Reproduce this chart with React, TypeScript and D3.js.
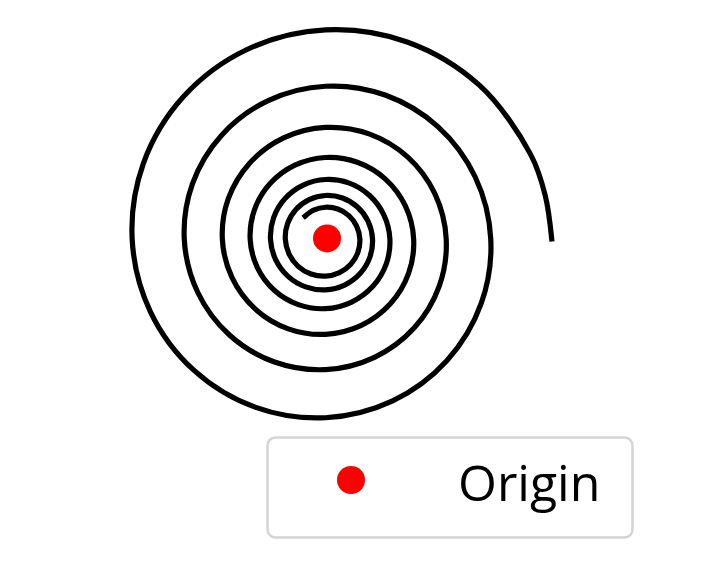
import React from 'react';
import * as d3 from 'd3';

const W = 727;
const H = 567;

// spiral centre in pixels and pixels per data unit
const CX = 325.5;
const CY = 239;
const UNIT = 30.62;

// spiral nodes: angle in degrees (clockwise from 12 o'clock,
// cumulative over the turns) and radius in data units
const SPIRAL_ANGLES = [
  -41.8, -22.5, 0, 22.5, 45, 67.5, 90, 112.5, 135, 157.5, 180, 202.5, 225, 247.5, 270,
  292.5, 315, 337.5, 360, 382.5, 405, 427.5, 450, 472.5, 495, 517.5, 540, 562.5, 585,
  607.5, 630, 652.5, 675, 697.5, 720, 742.5, 765, 787.5, 810, 832.5, 855, 877.5, 900,
  922.5, 945, 967.5, 990, 1012.5, 1035, 1057.5, 1080, 1102.5, 1125, 1147.5, 1170,
  1192.5, 1215, 1237.5, 1260, 1282.5, 1305, 1327.5, 1350, 1372.5, 1395, 1417.5, 1440,
  1462.5, 1485, 1507.5, 1530, 1552.5, 1575, 1597.5, 1620, 1642.5, 1665, 1687.5, 1710,
  1732.5, 1755, 1777.5, 1800, 1822.5, 1845, 1867.5, 1890, 1912.5, 1935, 1957.5, 1980,
  2002.5, 2025, 2047.5, 2070, 2092.5, 2115, 2137.5, 2160, 2182.5, 2205, 2227.5, 2238.75,
  2250,
];
const SPIRAL_RADII = [
  1.0, 1.017, 1.037, 1.058, 1.079, 1.1, 1.122, 1.144, 1.167, 1.19, 1.214, 1.238, 1.262,
  1.287, 1.313, 1.339, 1.365, 1.392, 1.42, 1.448, 1.477, 1.506, 1.536, 1.566, 1.597,
  1.629, 1.661, 1.694, 1.728, 1.762, 1.797, 1.833, 1.869, 1.906, 1.944, 1.983, 2.022,
  2.062, 2.103, 2.145, 2.187, 2.23, 2.275, 2.32, 2.366, 2.413, 2.461, 2.509, 2.559,
  2.61, 2.662, 2.714, 2.768, 2.823, 2.879, 2.936, 2.994, 3.054, 3.114, 3.176, 3.239,
  3.303, 3.369, 3.436, 3.504, 3.573, 3.644, 3.716, 3.79, 3.865, 3.942, 4.02, 4.1,
  4.181, 4.264, 4.348, 4.435, 4.522, 4.612, 4.704, 4.797, 4.892, 4.989, 5.088, 5.189,
  5.292, 5.397, 5.504, 5.613, 5.724, 5.837, 5.953, 6.071, 6.192, 6.314, 6.44, 6.567,
  6.698, 6.83, 6.966, 7.104, 7.245, 7.316, 7.388,
];

const ORIGIN_X = [0.05];
const ORIGIN_Y = [0.02];
const LEGEND_LABELS = ['Origin'];

export default function App() {
  const xScale = d3.scaleLinear().domain([-8, 8]).range([CX - 8 * UNIT, CX + 8 * UNIT]);
  const yScale = d3.scaleLinear().domain([-8, 8]).range([CY + 8 * UNIT, CY - 8 * UNIT]);

  const nodes = SPIRAL_ANGLES.map((a, i) => ({ a: (a * Math.PI) / 180, r: SPIRAL_RADII[i] }));

  const line = d3
    .line<{ a: number; r: number }>()
    .x((d) => xScale(d.r * Math.sin(d.a)))
    .y((d) => yScale(d.r * Math.cos(d.a)))
    .curve(d3.curveCatmullRom.alpha(0.5));

  return (
    <div style={{ position: 'absolute', left: 0, top: 0, width: W, height: H, background: '#fff' }}>
      <svg width={W} height={H} style={{ display: 'block' }}>
        {/* Spiral */}
        <path d={line(nodes) ?? ''} fill="none" stroke="#000" strokeWidth={5.2} strokeLinecap="square" />

        {/* Origin */}
        {ORIGIN_X.map((x, i) => (
          <circle key={i} cx={xScale(x)} cy={yScale(ORIGIN_Y[i])} r={14} fill="#ff0000" />
        ))}

        {/* Legend */}
        <g transform="translate(267,437)">
          <rect
            x={0.5}
            y={0.5}
            width={365}
            height={100}
            rx={8}
            fill="#fff"
            stroke="#d4d4d4"
            strokeWidth={2.5}
          />
          {LEGEND_LABELS.map((label, i) => (
            <g key={label} transform={`translate(0,${i * 60})`}>
              <circle cx={84} cy={43} r={14} fill="#ff0000" />
              <text
                x={191}
                y={64}
                fontFamily="'Open Sans', sans-serif"
                fontSize={50}
                fill="#000"
              >
                {label}
              </text>
            </g>
          ))}
        </g>
      </svg>
    </div>
  );
}
